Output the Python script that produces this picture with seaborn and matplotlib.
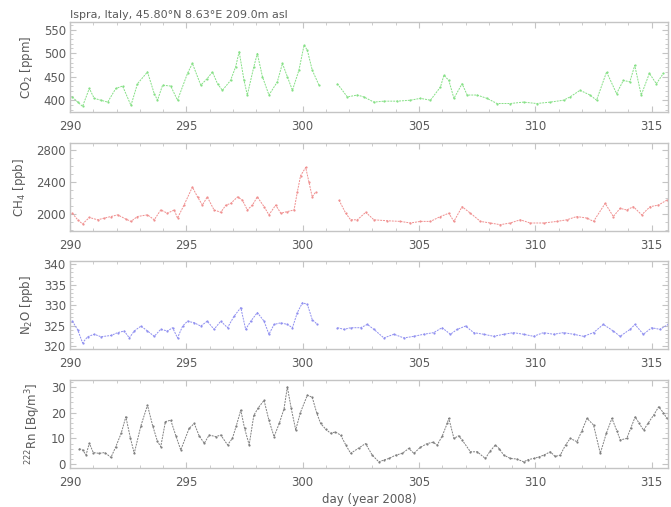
import numpy as np
import pandas as pd
import matplotlib
matplotlib.use("Agg")
import matplotlib.pyplot as plt
from matplotlib.ticker import MultipleLocator
import seaborn as sns

sns.set_theme(style="white")
plt.rcParams['font.family'] = ['DejaVu Sans']

TITLE = "Ispra, Italy, 45.80°N 8.63°E 209.0m asl"
XLABEL = "day (year 2008)"

co2_day = [290.10, 290.33, 290.54, 290.83, 291.04, 291.33, 291.62, 291.97, 292.26, 292.62, 292.90,
           293.33, 293.62, 293.76, 293.98, 294.33, 294.62, 295.05, 295.26, 295.62, 295.90, 296.12,
           296.34, 296.55, 296.90, 297.12, 297.27, 297.48, 297.62, 297.90, 298.05, 298.27, 298.55,
           298.91, 299.13, 299.34, 299.56, 299.84, 300.06, 300.20, 300.41, 300.70,
           301.49, 301.92, 302.35, 302.63, 303.06, 303.49, 304.06, 304.63, 305.06, 305.49, 305.92,
           306.07, 306.28, 306.50, 306.85, 307.07, 307.49, 307.92, 308.35, 308.92, 309.49, 310.06,
           310.64, 311.21, 311.49, 311.92, 312.35, 312.63, 313.06, 313.49, 313.78, 314.06, 314.27,
           314.55, 314.90, 315.20, 315.50]
co2_val = [407, 396, 387, 425, 404, 400, 396, 425, 430, 389, 435,
           460, 414, 400, 432, 430, 400, 457, 478, 432, 446, 460,
           435, 421, 442, 471, 503, 442, 411, 471, 499, 450, 411,
           439, 478, 450, 421, 464, 517, 506, 464, 432,
           435, 407, 411, 407, 396, 398, 398, 400, 404, 400, 428,
           453, 442, 404, 435, 411, 411, 404, 393, 393, 396, 393,
           396, 400, 407, 421, 411, 400, 460, 414, 442, 439, 474,
           411, 457, 435, 457]

ch4_day = [290.10, 290.33, 290.54, 290.83, 291.19, 291.47, 291.76, 292.05, 292.40, 292.62, 292.90,
           293.33, 293.62, 293.90, 294.19, 294.48, 294.62, 294.90, 295.26, 295.48, 295.69, 295.90,
           296.19, 296.48, 296.70, 296.91, 297.20, 297.41, 297.62, 297.84, 298.05, 298.34, 298.55,
           298.84, 299.06, 299.34, 299.63, 299.77, 299.91, 300.13, 300.27, 300.41, 300.56,
           301.56, 301.85, 302.06, 302.35, 302.71, 303.06, 303.63, 304.20, 304.63, 305.06, 305.49,
           305.92, 306.28, 306.50, 306.85, 307.21, 307.64, 308.06, 308.49, 308.92, 309.35, 309.78,
           310.36, 310.93, 311.35, 311.78, 312.22, 312.50, 313.00, 313.35, 313.64, 313.93, 314.21,
           314.57, 314.93, 315.29, 315.65]
ch4_val = [2012, 1930, 1878, 1959, 1930, 1951, 1971, 1992, 1939, 1910, 1971,
           1992, 1930, 2053, 2012, 2053, 1951, 2114, 2339, 2216, 2114, 2216,
           2053, 2024, 2114, 2135, 2216, 2176, 2053, 2114, 2216, 2094, 1992,
           2114, 2012, 2033, 2053, 2278, 2482, 2584, 2400, 2216, 2278,
           2176, 2012, 1930, 1930, 2024, 1930, 1918, 1910, 1890, 1910, 1910,
           1971, 2012, 1910, 2094, 2012, 1910, 1890, 1869, 1890, 1930, 1890,
           1890, 1910, 1930, 1971, 1951, 1910, 2135, 1971, 2073, 2053, 2094,
           1992, 2094, 2114, 2176]

n2o_day = [290.10, 290.33, 290.54, 290.76, 291.04, 291.33, 291.76, 292.05, 292.33, 292.55, 292.76,
           293.05, 293.33, 293.62, 293.90, 294.19, 294.41, 294.62, 294.84, 295.05, 295.34, 295.62,
           295.90, 296.19, 296.48, 296.77, 297.05, 297.34, 297.55, 297.77, 298.05, 298.34, 298.55,
           298.77, 299.06, 299.34, 299.56, 299.77, 299.99, 300.20, 300.41, 300.63,
           301.49, 301.78, 302.06, 302.49, 302.78, 303.06, 303.49, 303.92, 304.35, 304.78, 305.20,
           305.63, 305.99, 306.35, 306.64, 307.00, 307.35, 307.78, 308.21, 308.64, 309.06, 309.49,
           309.92, 310.35, 310.78, 311.21, 311.64, 312.07, 312.50, 312.92, 313.35, 313.64, 314.07,
           314.28, 314.64, 315.00, 315.35, 315.71]
n2o_val = [326.1, 324.0, 320.8, 322.3, 322.9, 322.3, 322.6, 323.3, 323.7, 322.0, 323.7,
           324.9, 323.7, 322.4, 324.1, 323.7, 324.5, 322.0, 324.9, 326.1, 325.7, 324.9,
           326.1, 324.1, 326.1, 324.5, 327.3, 329.4, 324.1, 326.1, 328.2, 326.1, 322.9,
           325.3, 325.7, 325.3, 324.5, 328.2, 330.6, 330.2, 326.5, 325.3,
           324.5, 324.1, 324.5, 324.5, 325.3, 324.1, 322.0, 322.9, 322.0, 322.4, 322.9,
           323.3, 324.5, 322.9, 324.1, 324.9, 323.3, 322.9, 322.4, 322.9, 323.3, 322.9,
           322.4, 323.3, 322.9, 323.3, 322.9, 322.4, 323.3, 325.3, 323.7, 322.4, 324.1,
           325.3, 322.9, 324.5, 324.1, 325.3]

rn_day = [290.40, 290.54, 290.69, 290.83, 291.00, 291.25, 291.50, 291.76, 291.97, 292.20, 292.40,
          292.60, 292.76, 293.05, 293.33, 293.55, 293.76, 293.90, 294.10, 294.33, 294.55, 294.76,
          295.12, 295.34, 295.55, 295.77, 295.98, 296.27, 296.48, 296.77, 296.98, 297.15, 297.34,
          297.50, 297.70, 297.90, 298.10, 298.34, 298.55, 298.77, 299.00, 299.20, 299.34, 299.50,
          299.70, 299.90, 300.20, 300.41, 300.60, 300.77, 301.00, 301.20, 301.40, 301.63, 301.85,
          302.06, 302.40, 302.70, 302.99, 303.27, 303.50, 303.70, 304.00, 304.28, 304.56, 304.78,
          305.05, 305.35, 305.60, 305.78, 306.00, 306.21, 306.28, 306.50, 306.70, 306.85, 307.21,
          307.50, 307.85, 308.05, 308.28, 308.45, 308.64, 308.93, 309.20, 309.50, 309.70, 309.93,
          310.15, 310.36, 310.64, 310.85, 311.07, 311.30, 311.50, 311.79, 312.00, 312.22, 312.50,
          312.79, 313.05, 313.29, 313.50, 313.65, 313.93, 314.10, 314.29, 314.45, 314.65, 314.85,
          315.08, 315.30, 315.50, 315.65]
rn_val = [6.0, 5.5, 3.6, 8.1, 4.5, 4.2, 4.5, 2.6, 6.8, 12.0, 18.4,
          10.0, 4.2, 15.0, 22.9, 15.0, 8.8, 6.8, 16.5, 17.1, 11.0, 5.5,
          13.9, 15.8, 11.0, 8.1, 11.3, 10.7, 11.3, 7.5, 10.0, 15.0, 21.0,
          14.0, 7.5, 19.0, 22.0, 24.8, 17.0, 10.7, 16.0, 21.6, 30.0, 22.0,
          13.3, 20.0, 26.8, 26.0, 20.0, 15.8, 13.5, 12.0, 12.5, 11.3, 7.5,
          4.2, 6.2, 8.0, 3.5, 0.9, 1.6, 2.2, 3.5, 4.2, 6.1, 4.2,
          6.5, 8.0, 8.5, 7.4, 11.0, 15.8, 17.8, 10.0, 11.0, 9.4, 4.8,
          4.8, 2.2, 5.0, 7.4, 6.0, 3.5, 2.2, 2.0, 0.9, 1.8, 2.2,
          2.8, 3.5, 4.8, 3.0, 3.5, 7.5, 10.0, 8.7, 13.0, 17.8, 15.2,
          4.2, 12.0, 17.8, 13.0, 9.4, 10.0, 14.0, 18.4, 16.0, 13.2, 16.0,
          19.0, 22.3, 20.0, 17.8]

panels = [
    dict(day=co2_day, val=co2_val, color="#86e086", ylabel="CO$_2$ [ppm]",
         ylim=(375, 566), major=50, minor=10),
    dict(day=ch4_day, val=ch4_val, color="#f09090", ylabel="CH$_4$ [ppb]",
         ylim=(1790, 2890), major=400, minor=100),
    dict(day=n2o_day, val=n2o_val, color="#9090f0", ylabel="N$_2$O [ppb]",
         ylim=(319.3, 340.8), major=5, minor=1),
    dict(day=rn_day, val=rn_val, color="#808080", ylabel="$^{222}$Rn [Bq/m$^3$]",
         ylim=(-1.5, 32.7), major=10, minor=2),
]

W, H = 671, 507
fig = plt.figure(figsize=(W / 100, H / 100), dpi=100)
fig.patch.set_facecolor("white")

boxes = [(22, 112), (143, 231), (261, 349), (380, 468)]
left_px, right_px = 70, 668
text_col = "#5a5a5a"
spine_col = "#c4c4c4"

for p, (top, bot) in zip(panels, boxes):
    ax = fig.add_axes([left_px / W, 1 - bot / H, (right_px - left_px) / W, (bot - top) / H])
    df = pd.DataFrame({"day": p["day"], "val": p["val"]})
    df["seg"] = (df["day"].diff() > 0.6).cumsum()
    sns.lineplot(data=df, x="day", y="val", units="seg", estimator=None, ax=ax,
                 color=p["color"], linewidth=0.7, marker="o", markersize=1.6,
                 markeredgewidth=0, linestyle=(0, (2, 1)), legend=False)
    ax.set_xlim(290, 315.7)
    ax.set_ylim(*p["ylim"])
    ax.xaxis.set_major_locator(MultipleLocator(5))
    ax.xaxis.set_minor_locator(MultipleLocator(1))
    ax.yaxis.set_major_locator(MultipleLocator(p["major"]))
    ax.yaxis.set_minor_locator(MultipleLocator(p["minor"]))
    ax.tick_params(which="both", direction="in", top=True, right=True, bottom=True, left=True,
                   colors=spine_col, labelcolor=text_col, labelsize=8.5)
    ax.tick_params(axis="x", pad=6)
    ax.tick_params(axis="y", pad=3)
    ax.tick_params(which="major", length=4, width=0.8)
    ax.tick_params(which="minor", length=2, width=0.6)
    for s in ax.spines.values():
        s.set_color(spine_col)
        s.set_linewidth(1.0)
    ax.set_ylabel(p["ylabel"], color=text_col, fontsize=8.5, labelpad=6)
    ax.set_xlabel("")
    ax.set_facecolor("white")
    if top == 22:
        ax.text(0.0, 1.02, TITLE, transform=ax.transAxes, color=text_col, fontsize=8,
                ha="left", va="bottom")
    if top == 380:
        ax.set_xlabel(XLABEL, color=text_col, fontsize=8.5, labelpad=3)

fig.savefig("out.png", dpi=100, facecolor="white")
